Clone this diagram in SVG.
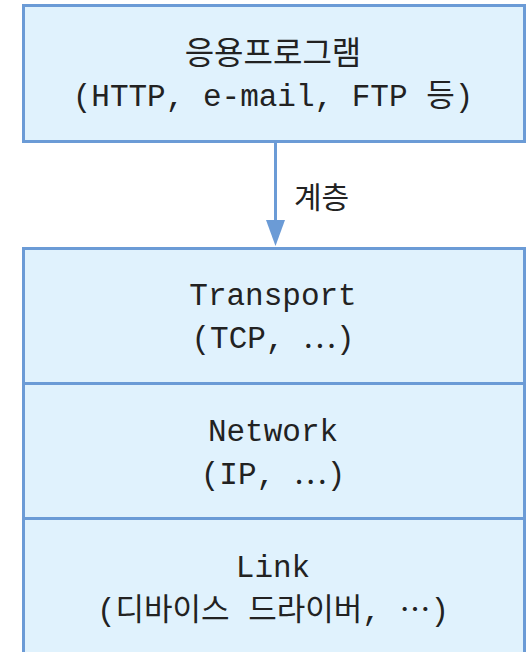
<svg xmlns="http://www.w3.org/2000/svg" width="527" height="652" viewBox="0 0 527 652">
<style>
.box{fill:#e0f2fd;stroke:#6b9bd6;stroke-width:3}
.t{font-family:"Liberation Mono","Noto Sans CJK KR",monospace;font-size:31px;fill:#222;text-anchor:middle}
.h{font-size:32px}
.e{font-family:"Noto Sans CJK KR",sans-serif}
.k{font-family:"Noto Sans CJK KR",sans-serif;font-size:30px;fill:#222}
.conn{stroke:#6b9bd6;stroke-width:3;fill:none}
</style>
<g id="app">
<rect class="box" x="23.5" y="5.5" width="501" height="136"/>
<text class="t h" x="273" y="64">응용프로그램</text>
<text class="t" x="273" y="106">(HTTP, e-mail, FTP 등)</text>
</g>
<g id="connectors">
<line class="conn" x1="275.5" y1="143" x2="275.5" y2="222"/>
<path d="M266,220 L285,220 L275.5,246 z" fill="#6b9bd6"/>
<text class="k" x="294" y="208">계층</text>
</g>
<g id="transport">
<rect class="box" x="23.5" y="248.5" width="501" height="135"/>
<text class="t" x="273" y="305">Transport</text>
<text class="t" x="273" y="348">(TCP, <tspan class="e">⋯</tspan>)</text>
</g>
<g id="network">
<rect class="box" x="23.5" y="383.5" width="501" height="135"/>
<text class="t" x="273" y="441">Network</text>
<text class="t" x="273" y="484">(IP, <tspan class="e">⋯</tspan>)</text>
</g>
<g id="link">
<rect class="box" x="23.5" y="518.5" width="501" height="140"/>
<text class="t" x="273" y="577">Link</text>
<text class="t" x="273" y="620">(디바이스 드라이버, <tspan class="e">⋯</tspan>)</text>
</g>
</svg>
